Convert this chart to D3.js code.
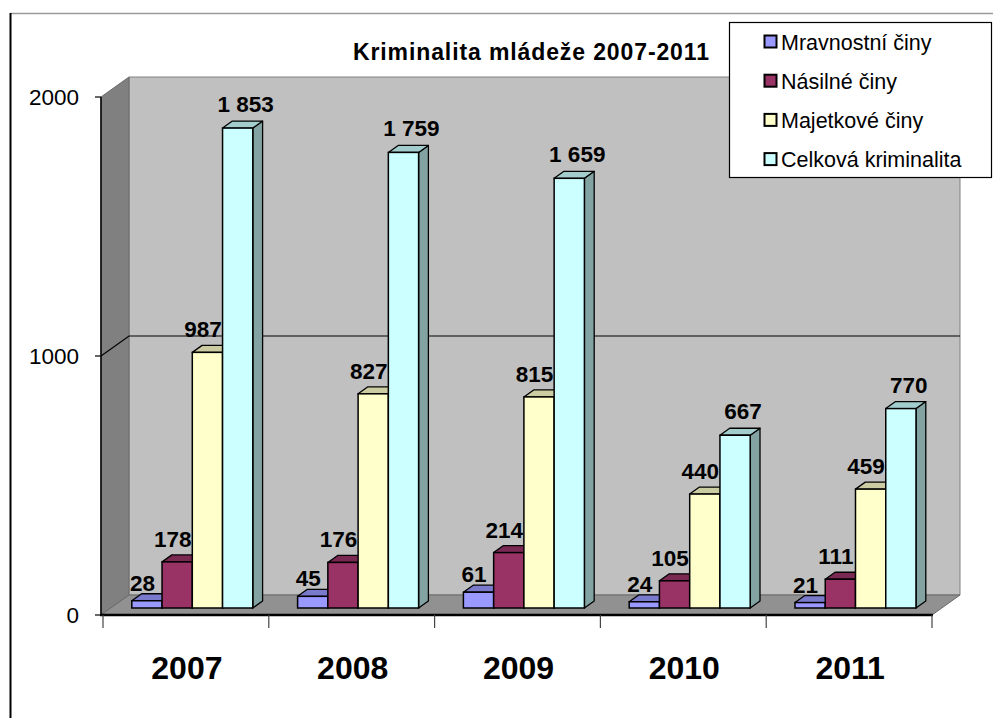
<!DOCTYPE html>
<html><head><meta charset="utf-8">
<script src="https://cdn.jsdelivr.net/npm/d3@7/dist/d3.min.js"></script>
<style>html,body{margin:0;padding:0;background:#fff;}svg{display:block;}</style>
</head><body>
<svg id="chart" width="993" height="718"></svg>
<script>
const categories = ["2007", "2008", "2009", "2010", "2011"];
const seriesNames = ["Mravnostní činy", "Násilné činy", "Majetkové činy", "Celková kriminalita"];
const mravnostni = [28, 45, 61, 24, 21];
const nasilne = [178, 176, 214, 105, 111];
const majetkove = [987, 827, 815, 440, 459];
const celkova = [1853, 1759, 1659, 667, 770];
const yTicks = [0, 1000, 2000];
const title = "Kriminalita mládeže 2007-2011";

const seriesValues = [mravnostni, nasilne, majetkove, celkova];
const colors = ["#9999FF", "#993366", "#FFFFCC", "#CCFFFF"];
const labelDx = [-4.5, -4.5, -4.5, 8];
const labelGap = [3, 8, 8, 9];

const svg = d3.select("#chart");
const fmt = d3.formatLocale({decimal: ",", thousands: " ", grouping: [3], currency: ["", ""]}).format(",d");

// front-plane scales
const x = d3.scaleBand().domain(categories).range([103, 932]);
const inner = d3.scaleBand().domain(seriesNames).range([19, 140]);
const y = d3.scaleLinear().domain([0, 2000]).range([615, 97]);
const D = {dx: 28, dy: -20};
const tF = 0.35, tB = 0.7;
const left = 101, right = 932;

// frame
svg.append("line").attr("x1", 10).attr("x2", 993).attr("y1", 13.5).attr("y2", 13.5).attr("stroke", "#9a9a9a").attr("stroke-width", 1.5);
svg.append("line").attr("x1", 10.5).attr("x2", 10.5).attr("y1", 13).attr("y2", 718).attr("stroke", "#000").attr("stroke-width", 2);

const poly = pts => pts.map(p => p.join(",")).join(" ");
const y0 = y(0), yMax = y(2000);

// back wall
svg.append("polygon").attr("points", poly([[left + D.dx, yMax + D.dy], [right + D.dx, yMax + D.dy], [right + D.dx, y0 + D.dy], [left + D.dx, y0 + D.dy]]))
  .attr("fill", "#c0c0c0").attr("stroke", "#808080").attr("stroke-width", 1);
// side wall
svg.append("polygon").attr("points", poly([[left, yMax], [left + D.dx, yMax + D.dy], [left + D.dx, y0 + D.dy], [left, y0]]))
  .attr("fill", "#808080").attr("stroke", "#6a6a6a").attr("stroke-width", 1);
// floor
svg.append("polygon").attr("points", poly([[left, y0], [left + D.dx, y0 + D.dy], [right + D.dx, y0 + D.dy], [right, y0]]))
  .attr("fill", "#919191").attr("stroke", "#6a6a6a").attr("stroke-width", 1);

// gridlines
yTicks.filter(t => t > 0 && t < 2000).forEach(t => {
  svg.append("polyline").attr("points", poly([[left, y(t)], [left + D.dx, y(t) + D.dy], [right + D.dx, y(t) + D.dy]]))
    .attr("fill", "none").attr("stroke", "#000").attr("stroke-width", 1.2);
});

// y axis
svg.append("line").attr("x1", left).attr("x2", left).attr("y1", yMax).attr("y2", y0).attr("stroke", "#000").attr("stroke-width", 1.5);
yTicks.forEach(t => {
  svg.append("line").attr("x1", left - 6).attr("x2", left).attr("y1", y(t)).attr("y2", y(t)).attr("stroke", "#000").attr("stroke-width", 1.2);
  svg.append("text").attr("x", 79).attr("y", y(t)).attr("dy", "0.36em").attr("text-anchor", "end")
    .attr("font-family", "Arial, 'Liberation Sans', sans-serif").attr("font-size", 22.5).attr("fill", "#000").text(t);
});

// x axis
svg.append("line").attr("x1", left - 1).attr("x2", right + 1).attr("y1", y0).attr("y2", y0).attr("stroke", "#000").attr("stroke-width", 2.5);
const bounds = categories.map(c => x(c)).concat([x.range()[1]]);
bounds.forEach(b => {
  svg.append("line").attr("x1", b).attr("x2", b).attr("y1", y0).attr("y2", y0 + 13).attr("stroke", "#444").attr("stroke-width", 1.2);
});
categories.forEach(c => {
  svg.append("text").attr("x", x(c) + x.bandwidth() / 2 + 1).attr("y", 679).attr("text-anchor", "middle")
    .attr("font-family", "Arial, 'Liberation Sans', sans-serif").attr("font-weight", "bold").attr("font-size", 32).attr("fill", "#000").text(c);
});

// bars
const bw = inner.bandwidth();
const ddx = D.dx * (tB - tF), ddy = D.dy * (tB - tF);
const shade = (c, k) => { const r = d3.rgb(c); return d3.rgb(r.r * k, r.g * k, r.b * k).formatHex(); };
const bars = [];
categories.forEach((c, ci) => {
  seriesNames.forEach((s, si) => {
    const v = seriesValues[si][ci];
    const x0 = x(c) + inner(s) + D.dx * tF;
    const yT = y(v) + D.dy * tF;
    const yB = y(0) + D.dy * tF;
    bars.push({ci, si, v, x0, yT, yB});
  });
});
const g = svg.append("g");
bars.forEach(b => {
  const col = colors[b.si];
  g.append("polygon").attr("points", poly([[b.x0 + bw, b.yT], [b.x0 + bw + ddx, b.yT + ddy], [b.x0 + bw + ddx, b.yB + ddy], [b.x0 + bw, b.yB]]))
    .attr("fill", shade(col, 0.64)).attr("stroke", "#000").attr("stroke-width", 1.3).attr("stroke-linejoin", "round");
  g.append("polygon").attr("points", poly([[b.x0, b.yT], [b.x0 + bw, b.yT], [b.x0 + bw + ddx, b.yT + ddy], [b.x0 + ddx, b.yT + ddy]]))
    .attr("fill", shade(col, 0.8)).attr("stroke", "#000").attr("stroke-width", 1.3).attr("stroke-linejoin", "round");
  g.append("rect").attr("x", b.x0).attr("y", b.yT).attr("width", bw).attr("height", b.yB - b.yT)
    .attr("fill", col).attr("stroke", "#000").attr("stroke-width", 1.5);
});
// value labels
bars.forEach(b => {
  svg.append("text").attr("x", b.x0 + bw / 2 + labelDx[b.si]).attr("y", b.yT + ddy - labelGap[b.si]).attr("text-anchor", "middle")
    .attr("font-family", "Arial, 'Liberation Sans', sans-serif").attr("font-weight", "bold").attr("font-size", 22.5).attr("fill", "#000")
    .text(fmt(b.v));
});

// title
svg.append("text").attr("x", 353).attr("y", 60).attr("textLength", 356).attr("lengthAdjust", "spacing")
  .attr("font-family", "Arial, 'Liberation Sans', sans-serif").attr("font-weight", "bold").attr("font-size", 23).attr("fill", "#000").text(title);

// legend
const lg = svg.append("g");
lg.append("rect").attr("x", 729.5).attr("y", 22.5).attr("width", 262).attr("height", 155).attr("fill", "#fff").attr("stroke", "#000").attr("stroke-width", 1.2);
seriesNames.forEach((s, i) => {
  const cy = 42 + i * 39.2;
  lg.append("rect").attr("x", 764.5).attr("y", cy - 6.5).attr("width", 12).attr("height", 12).attr("fill", colors[i]).attr("stroke", "#000").attr("stroke-width", 2);
  lg.append("text").attr("x", 781).attr("y", cy).attr("dy", "0.36em")
    .attr("font-family", "Arial, 'Liberation Sans', sans-serif").attr("font-size", 21.5).attr("fill", "#000").text(s);
});
</script>
</body></html>
